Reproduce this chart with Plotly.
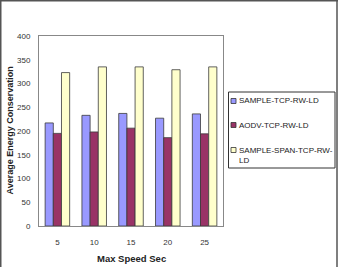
import plotly.graph_objects as go

categories = ["5", "10", "15", "20", "25"]
series_names = ["SAMPLE-TCP-RW-LD", "AODV-TCP-RW-LD", "SAMPLE-SPAN-TCP-RW-LD"]
sample_tcp = [217, 233, 237, 227, 236]
aodv_tcp = [195, 198, 206, 186, 194]
sample_span = [323, 335, 335, 329, 335]
colors = ["#9999FF", "#993366", "#FFFFCC"]
legend_labels = ["SAMPLE-TCP-RW-LD", "AODV-TCP-RW-LD", "SAMPLE-SPAN-TCP-RW-<br>LD"]
x_title = "Max Speed Sec"
y_title = "Average Energy Conservation"

W, H = 338, 267
L, R, T, B = 39, 223, 36, 226  # plot area in px

def px_x(px):
    return (px - L) / (R - L)

def px_y(py):
    return (B - py) / (B - T)

FONT = "Liberation Sans, Arial"

fig = go.Figure()
for name, vals, col in zip(series_names, [sample_tcp, aodv_tcp, sample_span], colors):
    fig.add_trace(go.Bar(
        x=categories, y=vals, name=name,
        marker=dict(color=col, line=dict(color="#3a3a3a", width=0.8)),
        showlegend=False,
    ))

shapes = []
annotations = []
# legend box
shapes.append(dict(type="rect", xref="paper", yref="paper",
                   x0=px_x(228.5), x1=px_x(335), y0=px_y(92), y1=px_y(168),
                   line=dict(color="#333333", width=1), fillcolor="white", layer="above"))
item_y = [101, 125, 150]
for lab, col, yy in zip(legend_labels, colors, item_y):
    shapes.append(dict(type="rect", xref="paper", yref="paper",
                       x0=px_x(231), x1=px_x(236), y0=px_y(yy - 2.5), y1=px_y(yy + 2.5),
                       line=dict(color="#333333", width=0.8), fillcolor=col, layer="above"))
    if "<br>" in lab:
        annotations.append(dict(xref="paper", yref="paper", x=px_x(237), y=px_y(yy - 6),
                                xanchor="left", yanchor="top", align="left", showarrow=False,
                                text=lab, font=dict(family=FONT, size=8, color="#222222")))
    else:
        annotations.append(dict(xref="paper", yref="paper", x=px_x(237), y=px_y(yy),
                                xanchor="left", yanchor="middle", align="left", showarrow=False,
                                text=lab, font=dict(family=FONT, size=8, color="#222222")))

# axis titles
annotations.append(dict(xref="paper", yref="paper", x=px_x(131), y=px_y(258),
                        xanchor="center", yanchor="middle", showarrow=False,
                        text="<b>" + x_title + "</b>", font=dict(family=FONT, size=9.5, color="#222222")))
annotations.append(dict(xref="paper", yref="paper", x=px_x(9.5), y=px_y(131),
                        xanchor="center", yanchor="middle", showarrow=False, textangle=-90,
                        text="<b>" + y_title + "</b>", font=dict(family=FONT, size=9, color="#222222")))

# outer frame
frame_col = "#555555"
shapes.append(dict(type="line", xref="paper", yref="paper", x0=px_x(0), x1=px_x(338), y0=px_y(0.75), y1=px_y(0.75),
                   line=dict(color=frame_col, width=1.5)))
shapes.append(dict(type="line", xref="paper", yref="paper", x0=px_x(0.75), x1=px_x(0.75), y0=px_y(0), y1=px_y(267),
                   line=dict(color=frame_col, width=1.5)))
shapes.append(dict(type="line", xref="paper", yref="paper", x0=px_x(337), x1=px_x(337), y0=px_y(0), y1=px_y(267),
                   line=dict(color=frame_col, width=1.5)))

fig.update_layout(
    width=W, height=H,
    margin=dict(l=L, r=W - R, t=T, b=H - B, pad=0, autoexpand=False),
    paper_bgcolor="white", plot_bgcolor="white",
    barmode="group", bargap=0.333, bargroupgap=0,
    font=dict(family=FONT, size=7, color="#333333"),
    shapes=shapes, annotations=annotations,
    xaxis=dict(
        type="category", showline=True, mirror=True, linecolor="#888888", linewidth=1,
        showgrid=False, ticks="", ticklabelstandoff=8, automargin=False,
        tickfont=dict(size=8, color="#333333"),
    ),
    yaxis=dict(
        range=[0, 400], dtick=50, showline=True, mirror=True, linecolor="#888888", linewidth=1,
        showgrid=False, ticks="", ticklabelstandoff=6, zeroline=False, automargin=False,
        tickfont=dict(size=8, color="#333333"),
    ),
)

fig.write_html("out.html")
